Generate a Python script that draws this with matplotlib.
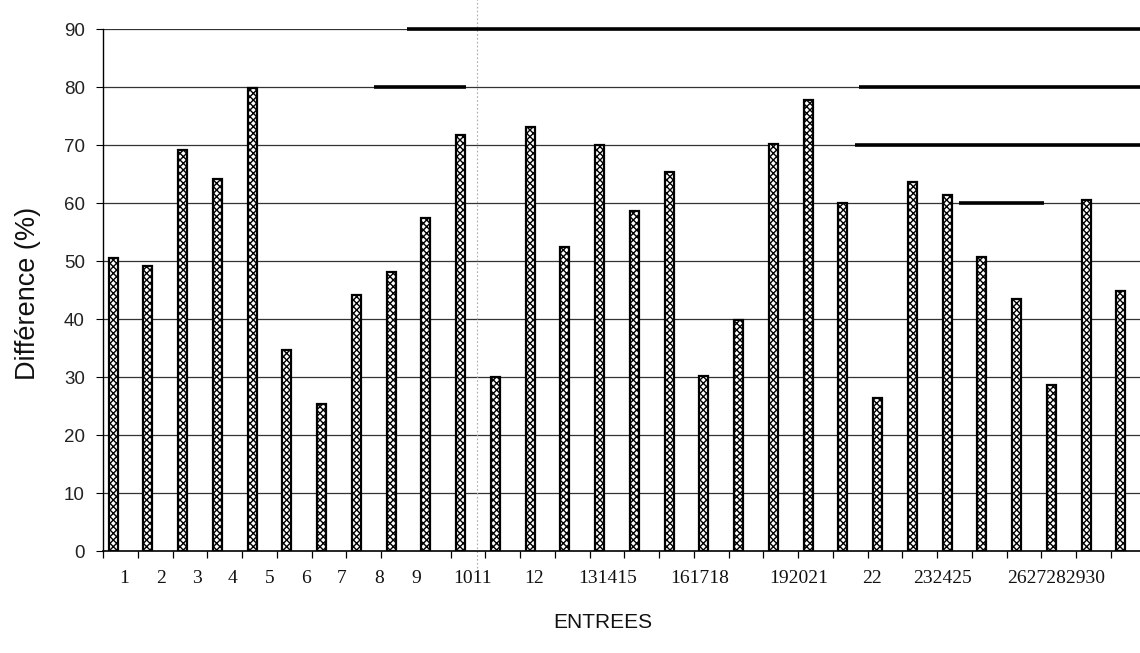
import matplotlib
matplotlib.use("Agg")
import matplotlib.pyplot as plt
import numpy as np

# ---- data ----
entries = list(range(1, 31))
difference = [50.5, 49.2, 69.2, 64.1, 79.9, 34.7, 25.4, 44.2, 48.1, 57.5,
              71.8, 30.0, 73.1, 52.4, 70.0, 58.6, 65.3, 30.2, 39.8, 70.2,
              77.7, 60.0, 26.3, 63.7, 61.4, 50.7, 43.4, 28.6, 60.6, 44.8]
tick_labels = ["1", "2", "3", "4", "5", "6", "7", "8", "9", "1011", "12",
               "131415", "161718", "192021", "22", "232425", "2627282930"]
y_ticks = [0, 10, 20, 30, 40, 50, 60, 70, 80, 90]

# ---- layout / style (positions of the scanned labels, in category units) ----
label_pos = [1.32, 2.38, 3.42, 4.45, 5.52, 6.56, 7.59, 8.65, 9.71, 11.33,
             13.12, 15.22, 17.87, 20.72, 22.85, 24.87, 28.15]
boundary_offset = -0.29
heavy_grid = [(90, 9.45, 30.6), (80, 8.5, 11.15), (80, 22.45, 30.6),
              (70, 22.35, 30.6), (60, 25.35, 27.8)]
fold_x = 11.48

plt.rcParams['hatch.linewidth'] = 1.0
fig = plt.figure(figsize=(11.4, 6.53), dpi=100)
ax = fig.add_axes([103/1140, 1 - 551/653, 1 - 103/1140, (551 - 29)/653])

x = np.array(entries, dtype=float)
ax.bar(x, difference, width=0.26, color="white", edgecolor="black",
       hatch="xxxxx", linewidth=1.6, zorder=3)

ax.set_xlim(entries[0] + boundary_offset, 30.55)
ax.set_ylim(0, 90)

# y axis
ax.set_yticks(y_ticks)
ax.set_yticklabels([str(v) for v in y_ticks], fontfamily="Liberation Sans",
                   fontsize=13.5, color="#222222")
ax.tick_params(axis="y", direction="out", length=5, width=0.8, pad=8)
for v in y_ticks[1:]:
    ax.axhline(v, color="#333333", linewidth=0.9, zorder=1)
for yv, x0, x1 in heavy_grid:
    ax.plot([x0, x1], [yv, yv], color="black", linewidth=2.6, zorder=2,
            solid_capstyle="butt", clip_on=False)

# x axis
ax.set_xticks(label_pos)
ax.set_xticklabels(tick_labels, fontfamily="Liberation Serif", fontsize=14,
                   color="#111111")
ax.tick_params(axis="x", which="major", length=0, pad=14)
ax.set_xticks(x + boundary_offset, minor=True)
ax.tick_params(axis="x", which="minor", direction="out", length=5, width=0.9)

for s in ["top", "right"]:
    ax.spines[s].set_visible(False)
ax.spines["left"].set_linewidth(1.0)
ax.spines["bottom"].set_linewidth(1.2)

# scan fold
ax.plot([fold_x, fold_x], [-3, 96], color="#aaaaaa", linewidth=0.8,
        linestyle=(0, (1.5, 2)), clip_on=False, zorder=1)

ax.text((28 - 103)/1037, (551 - 293)/522, "Différence (%)", transform=ax.transAxes,
        rotation=90, ha="center", va="center", fontfamily="Liberation Sans",
        fontsize=19.5, color="#111111")
ax.text((603 - 103)/1037, -(622 - 551)/522, "ENTREES", transform=ax.transAxes,
        ha="center", va="center", fontfamily="Liberation Sans",
        fontsize=15, color="#111111")

fig.savefig("out.png", dpi=100)
